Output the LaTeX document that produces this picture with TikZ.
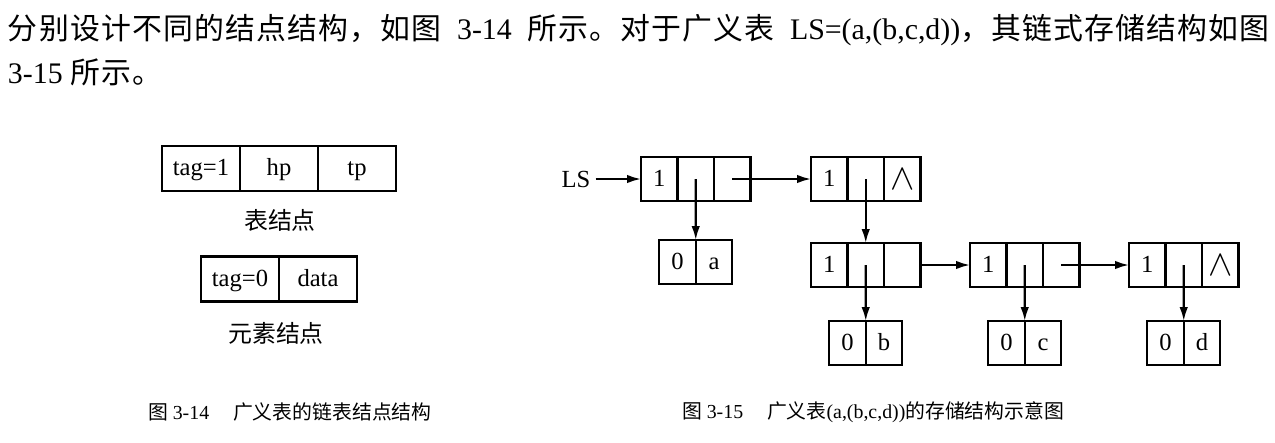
\documentclass[tikz,border=0pt]{standalone}
\usepackage{fontspec}
\setmainfont{Liberation Serif}
\newfontfamily\cjk{Noto Sans CJK SC}
\newfontfamily\cjkwide[LetterSpace=4]{Noto Sans CJK SC}
\usetikzlibrary{arrows.meta}

\begin{document}
\begin{tikzpicture}[x=0.02cm, y=-0.02cm,
    every node/.style={inner sep=0pt, outer sep=0pt},
    cell/.style={draw, line width=1.2pt, minimum width=0.73cm, minimum height=0.88cm, text height=9.5pt, text depth=0.5pt, font=\fontsize{14}{16}\selectfont},
    nilcell/.style={cell, text height=12pt, text depth=0pt, font=\fontsize{22}{22}\selectfont},
    field/.style={draw, line width=1.2pt, minimum width=1.56cm, minimum height=0.9cm, text height=9.5pt, text depth=1.5pt, font=\fontsize{14}{16}\selectfont},
    ptr/.style={line width=1.2pt, -{Latex[length=2.8mm,width=1.7mm]}},
    body/.style={anchor=west, font=\fontsize{17}{20}\selectfont},
    figcap/.style={anchor=west, font=\fontsize{11.3}{13}\selectfont},
    kind/.style={font=\cjk\fontsize{13.6}{15}\selectfont}]
    \useasboundingbox (0,0) rectangle (1275,443);

    \node[body] (line1) at (8,30) {\makebox[25.24cm][s]{{\cjkwide 分别设计不同的结点结构，如图} 3-14 {\cjkwide 所示。对于广义表} LS=(a,(b,c,d)){\cjkwide ，其链式存储结构如图}}};
    \node[body] (line2) at (8,72) {3-15 {\cjkwide 所示。}};

    \node[field] (t1tag) at (201,168.5) {tag=1};
    \node[field] (t1hp) at (279,168.5) {hp};
    \node[field] (t1tp) at (357,168.5) {tp};
    \node[kind] (t1kind) at (280,220) {表结点};
    \node[field] (t0tag) at (240,279) {tag=0};
    \node[field] (t0data) at (318,279) {data};
    \node[kind] (t0kind) at (276,333) {元素结点};

    \node[font=\fontsize{14}{16}\selectfont, inner xsep=3pt] (ls) at (576,179) {LS};
    \node[cell] (n1a) at (659.25,179) {1};
    \node[cell] (n1b) at (695.75,179) {};
    \node[cell] (n1c) at (732.25,179) {};
    \node[cell] (n2a) at (829.25,179) {1};
    \node[cell] (n2b) at (865.75,179) {};
    \node[nilcell] (n2c) at (902.25,179) {$\wedge$};
    \node[cell] (n3a) at (829.25,265) {1};
    \node[cell] (n3b) at (865.75,265) {};
    \node[cell] (n3c) at (902.25,265) {};
    \node[cell] (n4a) at (988.25,265) {1};
    \node[cell] (n4b) at (1024.75,265) {};
    \node[cell] (n4c) at (1061.25,265) {};
    \node[cell] (n5a) at (1147.25,265) {1};
    \node[cell] (n5b) at (1183.75,265) {};
    \node[nilcell] (n5c) at (1220.25,265) {$\wedge$};

    \node[cell] (ea0) at (677.5,262) {0};
    \node[cell] (ea1) at (714,262) {a};
    \node[cell] (eb0) at (847.5,343) {0};
    \node[cell] (eb1) at (884,343) {b};
    \node[cell] (ec0) at (1006.5,343) {0};
    \node[cell] (ec1) at (1043,343) {c};
    \node[cell] (ed0) at (1165.5,343) {0};
    \node[cell] (ed1) at (1202,343) {d};

    \draw[ptr] (ls.east) -- (n1a.west);
    \draw[ptr] (n1b.center) -- (ea0.north east);
    \draw[ptr] (n1c.center) -- (n2a.west);
    \draw[ptr] (n2b.center) -- (n3b.north);
    \draw[ptr] (n3b.center) -- (eb0.north east);
    \draw[ptr] (n3c.east) -- (n4a.west);
    \draw[ptr] (n4b.center) -- (ec0.north east);
    \draw[ptr] (n4c.center) -- (n5a.west);
    \draw[ptr] (n5b.center) -- (ed0.north east);

    \node[figcap] (cap1) at (148,412) {{\cjk 图} 3-14\hspace{1.2em}{\cjk 广义表的链表结点结构}};
    \node[figcap] (cap2) at (682,412) {{\cjk 图} 3-15\hspace{1.2em}{\cjk 广义表}(a,(b,c,d)){\cjk 的存储结构示意图}};
\end{tikzpicture}
\end{document}
